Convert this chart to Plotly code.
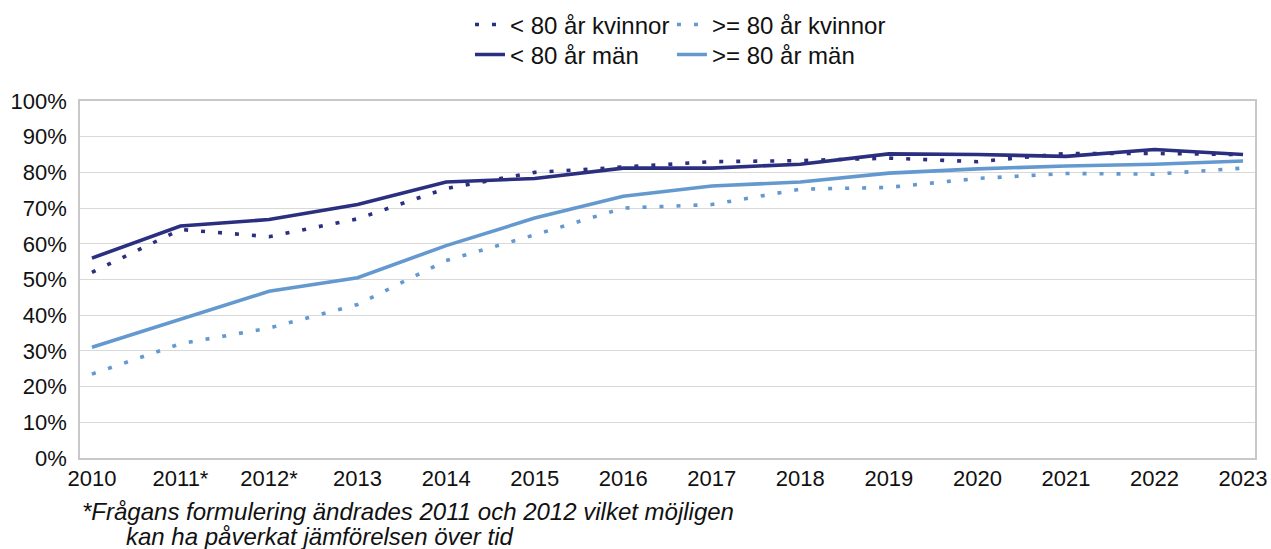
import plotly.graph_objects as go

# Year labels (asterisk marks the years with changed question wording)
years = ["2010", "2011*", "2012*", "2013", "2014", "2015", "2016",
         "2017", "2018", "2019", "2020", "2021", "2022", "2023"]

# Share in percent per group
lt80_kvinnor = [52.0, 64.0, 62.0, 67.0, 75.5, 80.0, 81.5, 83.0, 83.3, 84.0, 83.0, 85.3, 85.3, 85.0]
ge80_kvinnor = [23.5, 32.0, 36.4, 43.0, 55.3, 62.5, 70.0, 71.0, 75.3, 75.8, 78.3, 79.7, 79.5, 81.2]
lt80_man = [56.0, 65.0, 66.8, 71.0, 77.3, 78.3, 81.2, 81.2, 82.3, 85.2, 85.0, 84.5, 86.4, 85.0]
ge80_man = [31.0, 38.9, 46.7, 50.5, 59.5, 67.2, 73.3, 76.2, 77.3, 79.8, 81.0, 81.8, 82.3, 83.2]

y_ticks = list(range(0, 101, 10))
y_labels = [f"{v}%" for v in y_ticks]

DARK = "#2B2F7F"
LIGHT = "#6499CF"
FONT = "Liberation Sans, Arial, sans-serif"
DOTS = "4px,13px"

x = list(range(len(years)))

# one legend box per entry, laid out as a 2x2 grid above the plot
fig = go.Figure()
fig.add_trace(go.Scatter(x=x, y=lt80_kvinnor, mode="lines", name="< 80 år kvinnor",
                         line=dict(color=DARK, width=3.6, dash=DOTS), legend="legend",
                         showlegend=True))
fig.add_trace(go.Scatter(x=x, y=ge80_kvinnor, mode="lines", name=">= 80 år kvinnor",
                         line=dict(color=LIGHT, width=3.6, dash=DOTS), legend="legend2",
                         showlegend=True))
fig.add_trace(go.Scatter(x=x, y=lt80_man, mode="lines", name="< 80 år män",
                         line=dict(color=DARK, width=3.6), legend="legend3",
                         showlegend=True))
fig.add_trace(go.Scatter(x=x, y=ge80_man, mode="lines", name=">= 80 år män",
                         line=dict(color=LIGHT, width=3.6), legend="legend4",
                         showlegend=True))

legend_common = dict(orientation="h", xanchor="left", yanchor="middle",
                     font=dict(family=FONT, size=24, color="#111111"),
                     itemwidth=30, bgcolor="rgba(0,0,0,0)", visible=True)

COL1, COL2 = 0.3319, 0.5038
ROW1, ROW2 = 1.213, 1.129

fig.update_layout(
    width=1271, height=549,
    showlegend=True,
    margin=dict(l=80, r=16, t=101, b=91, autoexpand=False),
    paper_bgcolor="white", plot_bgcolor="white",
    font=dict(family=FONT, size=22, color="#111111"),
    legend=dict(x=COL1, y=ROW1, **legend_common),
    legend2=dict(x=COL2, y=ROW1, **legend_common),
    legend3=dict(x=COL1, y=ROW2, **legend_common),
    legend4=dict(x=COL2, y=ROW2, **legend_common),
    xaxis=dict(
        tickmode="array", tickvals=x, ticktext=years,
        range=[-0.135, 13.135], showgrid=False, zeroline=False,
        showline=True, mirror=True, linecolor="#C8C8C8", linewidth=1.5,
        ticks="", ticklabelstandoff=0,
        tickfont=dict(family=FONT, size=22, color="#111111"),
    ),
    yaxis=dict(
        tickmode="array", tickvals=y_ticks, ticktext=y_labels,
        range=[0, 100], showgrid=True, gridcolor="#D9D9D9", gridwidth=1.3,
        zeroline=False, showline=True, mirror=True, linecolor="#C8C8C8", linewidth=1.5,
        ticks="", ticklabelstandoff=7,
        tickfont=dict(family=FONT, size=22, color="#111111"),
    ),
    annotations=[
        dict(text="<i>*Frågans formulering ändrades 2011 och 2012 vilket möjligen</i>",
             xref="paper", yref="paper", x=0.0, y=-0.151, xanchor="left", yanchor="middle",
             showarrow=False, font=dict(family=FONT, size=24, color="#111111")),
        dict(text="<i>kan ha påverkat jämförelsen över tid</i>",
             xref="paper", yref="paper", x=0.0375, y=-0.2185, xanchor="left", yanchor="middle",
             showarrow=False, font=dict(family=FONT, size=24, color="#111111")),
    ],
)

fig.write_html("out.html")
